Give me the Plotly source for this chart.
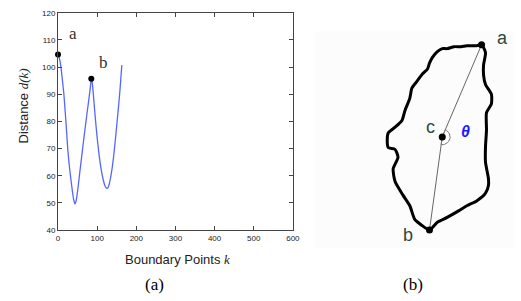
import numpy as np
import plotly.graph_objects as go

# ---- data: panel (a) distance curve ----
k_vals = [0, 3, 7.5, 11, 15, 20, 25, 29, 33, 37, 40, 43, 46, 50, 55, 60, 65, 70, 75, 80, 83, 85, 87, 90, 93, 97, 100, 105, 110, 115, 120, 124, 127, 130, 134, 138, 142, 146, 150, 154, 158, 163]
d_vals = [104.6, 103.5, 100, 95.5, 90, 80.3, 69.6, 63.5, 58.5, 54, 51.2, 49.6, 50.6, 54.3, 60.5, 66.5, 72.5, 78.3, 84, 89.5, 93, 95.7, 94.8, 90.5, 85, 78.5, 74, 67.5, 62.5, 58.8, 56.3, 55.4, 55.5, 56.5, 59, 62.5, 67, 72.5, 78.5, 84.5, 91, 100.7]
pt_a = (0, 104.6)
pt_b = (85, 95.7)

x_ticks = [0, 100, 200, 300, 400, 500, 600]
y_ticks = [40, 50, 60, 70, 80, 90, 100, 110, 120]

# ---- data: panel (b) boundary outline (panel pixel units) ----
blob_x = [488, 483, 473, 467, 460, 453, 448, 443, 438, 435, 433, 428, 422, 417, 415, 410, 407, 400, 393, 392, 393,
          400, 403, 398, 400, 408, 415, 420, 427, 435,
          443, 453, 465, 473, 483, 492, 495, 495, 492, 492, 493, 493, 498, 498, 492, 490, 490, 492, 488]
blob_y = [42, 43, 43, 44, 44, 46, 46, 49, 55, 61, 67, 72, 80, 87, 97, 110, 120, 127, 133, 140, 148,
          150, 158, 170, 183, 197, 208, 222, 228, 233,
          225, 220, 213, 208, 203, 195, 187, 180, 163, 147, 130, 112, 103, 93, 83, 73, 63, 50, 42]
p_a = (488, 42)
p_b = (435, 233)
p_c = (448, 137)

fig = go.Figure()

# panel (a)
fig.add_trace(go.Scatter(x=k_vals, y=d_vals, mode="lines", line=dict(color="#5566ff", width=1.3, shape="spline", smoothing=0.3),
                         xaxis="x", yaxis="y", hoverinfo="skip"))
fig.add_trace(go.Scatter(x=[pt_a[0], pt_b[0]], y=[pt_a[1], pt_b[1]], mode="markers",
                         marker=dict(color="black", size=6), xaxis="x", yaxis="y", cliponaxis=False))

# panel (b)
fig.add_trace(go.Scatter(x=blob_x, y=blob_y, mode="lines", line=dict(color="black", width=3, shape="spline", smoothing=0.6),
                         xaxis="x2", yaxis="y2"))
fig.add_trace(go.Scatter(x=[p_a[0], p_c[0], p_b[0]], y=[p_a[1], p_c[1], p_b[1]], mode="lines",
                         line=dict(color="#666666", width=1), xaxis="x2", yaxis="y2"))
# angle arc at c
ca = np.arctan2(p_a[1] - p_c[1], p_a[0] - p_c[0])
cb = np.arctan2(p_b[1] - p_c[1], p_b[0] - p_c[0])
angs = np.linspace(ca, cb, 20)
r = 8
arc_x = [p_c[0] + 2 * np.cos(ca)] + list(p_c[0] + r * np.cos(angs)) + [p_c[0] + 2 * np.cos(cb)]
arc_y = [p_c[1] + 2 * np.sin(ca)] + list(p_c[1] + r * np.sin(angs)) + [p_c[1] + 2 * np.sin(cb)]
fig.add_trace(go.Scatter(x=arc_x, y=arc_y, mode="lines", line=dict(color="#777777", width=1), xaxis="x2", yaxis="y2"))
fig.add_trace(go.Scatter(x=[p_a[0], p_b[0], p_c[0]], y=[p_a[1], p_b[1], p_c[1]], mode="markers",
                         marker=dict(color="black", size=7), xaxis="x2", yaxis="y2"))

W, H = 521, 301
ax_style = dict(showgrid=False, zeroline=False, showline=True, linecolor="#444", linewidth=1,
                ticks="inside", ticklen=4, tickcolor="#444", mirror="ticks",
                tickfont=dict(family="Arial", size=8, color="#222"))

fig.update_layout(
    width=W, height=H, margin=dict(l=0, r=0, t=0, b=0),
    paper_bgcolor="white", plot_bgcolor="white", showlegend=False,
    xaxis=dict(domain=[57 / W, 296 / W], range=[0, 600], tickvals=x_ticks, anchor="y", **ax_style),
    yaxis=dict(domain=[1 - 233 / H, 1 - 9 / H], range=[40, 120], tickvals=y_ticks, anchor="x", **ax_style),
    xaxis2=dict(domain=[318 / W, 1], range=[318, 521], visible=False, anchor="y2"),
    yaxis2=dict(domain=[1 - 252 / H, 1 - 28 / H], range=[252, 28], visible=False, anchor="x2"),
    shapes=[dict(type="rect", xref="x2", yref="y2", x0=318, x1=521, y0=28, y1=252,
                 fillcolor="#fcfcfc", line=dict(width=0), layer="below")],
)

serif = "Liberation Serif"
green = "#2b4a3a"
ann = [
    dict(text="a", x=pt_a[0], y=pt_a[1], xref="x", yref="y", xshift=15, yshift=21,
         font=dict(family=serif, size=17, color="#333")),
    dict(text="b", x=pt_b[0], y=pt_b[1], xref="x", yref="y", xshift=12, yshift=16,
         font=dict(family=serif, size=17, color="#333")),
    dict(text="Boundary Points <span style='font-family:Liberation Serif'><i>k</i></span>", x=179 / W, y=1 - 263 / H,
         xref="paper", yref="paper", font=dict(family="Arial", size=13, color="#222")),
    dict(text="Distance <span style='font-family:Liberation Serif'><i>d(k)</i></span>", x=22 / W, y=1 - 105 / H,
         xref="paper", yref="paper", textangle=-90, font=dict(family="Arial", size=13, color="#222")),
    dict(text="(a)", x=155 / W, y=1 - 289 / H, xref="paper", yref="paper",
         font=dict(family=serif, size=17, color="black")),
    dict(text="(b)", x=418 / W, y=1 - 289 / H, xref="paper", yref="paper",
         font=dict(family=serif, size=17, color="black")),
    dict(text="a", x=p_a[0], y=p_a[1], xref="x2", yref="y2", xshift=21, yshift=7,
         font=dict(family="Arial", size=18, color=green)),
    dict(text="b", x=p_b[0], y=p_b[1], xref="x2", yref="y2", xshift=-21, yshift=-5,
         font=dict(family="Arial", size=18, color=green)),
    dict(text="c", x=p_c[0], y=p_c[1], xref="x2", yref="y2", xshift=-12, yshift=10,
         font=dict(family="Arial", size=18, color=green)),
    dict(text="<b><i>θ</i></b>", x=p_c[0], y=p_c[1], xref="x2", yref="y2", xshift=23, yshift=5,
         font=dict(family="Arial", size=16, color="#1a1aff")),
]
for a in ann:
    a.update(showarrow=False, xanchor="center", yanchor="middle")
fig.update_layout(annotations=ann)

fig.write_html("out.html", config={"displayModeBar": False},
               post_script="document.body.style.margin='0';document.body.style.overflow='hidden';")
